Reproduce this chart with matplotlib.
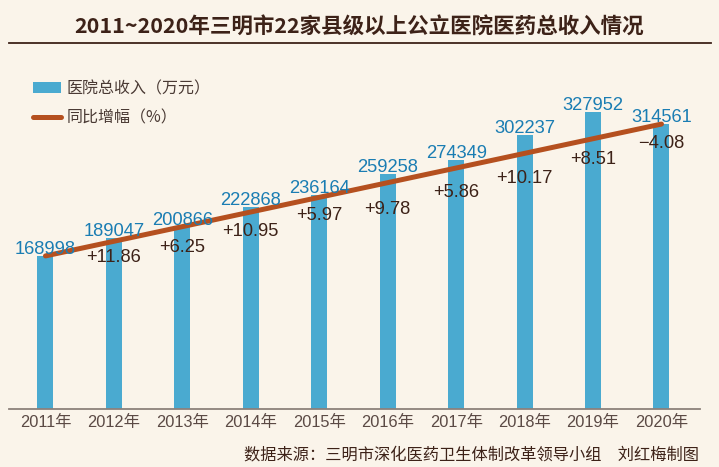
import numpy as np
import matplotlib.pyplot as plt
from matplotlib.patches import Patch
from matplotlib.lines import Line2D

plt.rcParams['font.family'] = ['Noto Sans CJK SC', 'DejaVu Sans']

# 数据
years = ['2011年', '2012年', '2013年', '2014年', '2015年',
         '2016年', '2017年', '2018年', '2019年', '2020年']
revenue = [168998, 189047, 200866, 222868, 236164,
           259258, 274349, 302237, 327952, 314561]
growth = ['+11.86', '+6.25', '+10.95', '+5.97', '+9.78',
          '+5.86', '+10.17', '+8.51', '\u22124.08']

title = '2011~2020年三明市22家县级以上公立医院医药总收入情况'
source = '数据来源：三明市深化医药卫生体制改革领导小组\u3000刘红梅制图'

# 颜色
bg = '#faf4ea'
bar_color = '#4aaad0'
num_blue = '#1a7db3'
line_color = '#b5501f'
dark = '#3d2218'
gray = '#5b4a45'

# 增幅标签离折线的距离（像素）
drop_px = [14.6, 19.3, 18, 16.4, 24.7, 22.7, 23.3, 19.2, 17.1]

num_font = ['Liberation Sans', 'Noto Sans CJK SC']

fig = plt.figure(figsize=(7.19, 4.67), dpi=100)
fig.patch.set_facecolor(bg)
ax = fig.add_axes([9 / 719, 58 / 467, 691 / 719, 349 / 467])
ax.set_facecolor(bg)

x = np.arange(len(years))
ax.bar(x, revenue, width=0.234, color=bar_color, zorder=2)

# 折线：首尾两根柱子顶端相连
line_x = [x[0], x[-1]]
line_y = [revenue[0], revenue[-1]]
ax.plot(line_x, line_y, color=line_color, lw=3.6, solid_capstyle='round', zorder=3)

for i, v in enumerate(revenue):
    ax.annotate(str(v), (x[i], v), xytext=(0, 2), textcoords='offset pixels',
                ha='center', va='baseline', fontsize=13.2, color=num_blue,
                family=num_font, zorder=4)

for k, g in enumerate(growth):
    i = k + 1
    ly = np.interp(x[i], line_x, line_y)
    ax.annotate(g, (x[i], ly), xytext=(0, -drop_px[k]), textcoords='offset pixels',
                ha='center', va='center_baseline', fontsize=13.2, color=dark,
                family=num_font, zorder=4)

ax.set_xlim(-0.533, 9.563)
ax.set_ylim(0, 349 * 1104)
ax.set_xticks(x)
ax.set_xticklabels(years, family=num_font, fontsize=11.8, color=gray)
ax.tick_params(axis='x', length=0, pad=4.5)
ax.set_yticks([])
for s in ['top', 'left', 'right']:
    ax.spines[s].set_visible(False)
ax.spines['bottom'].set_color('#8c817b')
ax.spines['bottom'].set_linewidth(1.3)

handles = [Patch(facecolor=bar_color, edgecolor='none', label='医院总收入（万元）'),
           Line2D([], [], color=line_color, lw=3.6, solid_capstyle='round', label='同比增幅（%）')]
ax.legend(handles=handles, loc='upper left', bbox_to_anchor=(33 / 719, 1 - 80 / 467),
          bbox_transform=fig.transFigure, frameon=False, fontsize=11.5,
          handlelength=1.75, handleheight=0.65, handletextpad=0.35,
          labelspacing=0.8, borderpad=0, borderaxespad=0, labelcolor='#4a3a34')

fig.text(0.5, 1 - 27 / 467, title, ha='center', va='center',
         fontsize=15.5, fontweight='bold', color=dark)
fig.add_artist(Line2D([9 / 719, 711 / 719], [1 - 43 / 467] * 2,
                      color=dark, lw=1.3, transform=fig.transFigure))
fig.text(699 / 719, 1 - 455 / 467, source, ha='right', va='center',
         fontsize=11.7, color=dark)

fig.savefig('out.png', dpi=100, facecolor=bg)
